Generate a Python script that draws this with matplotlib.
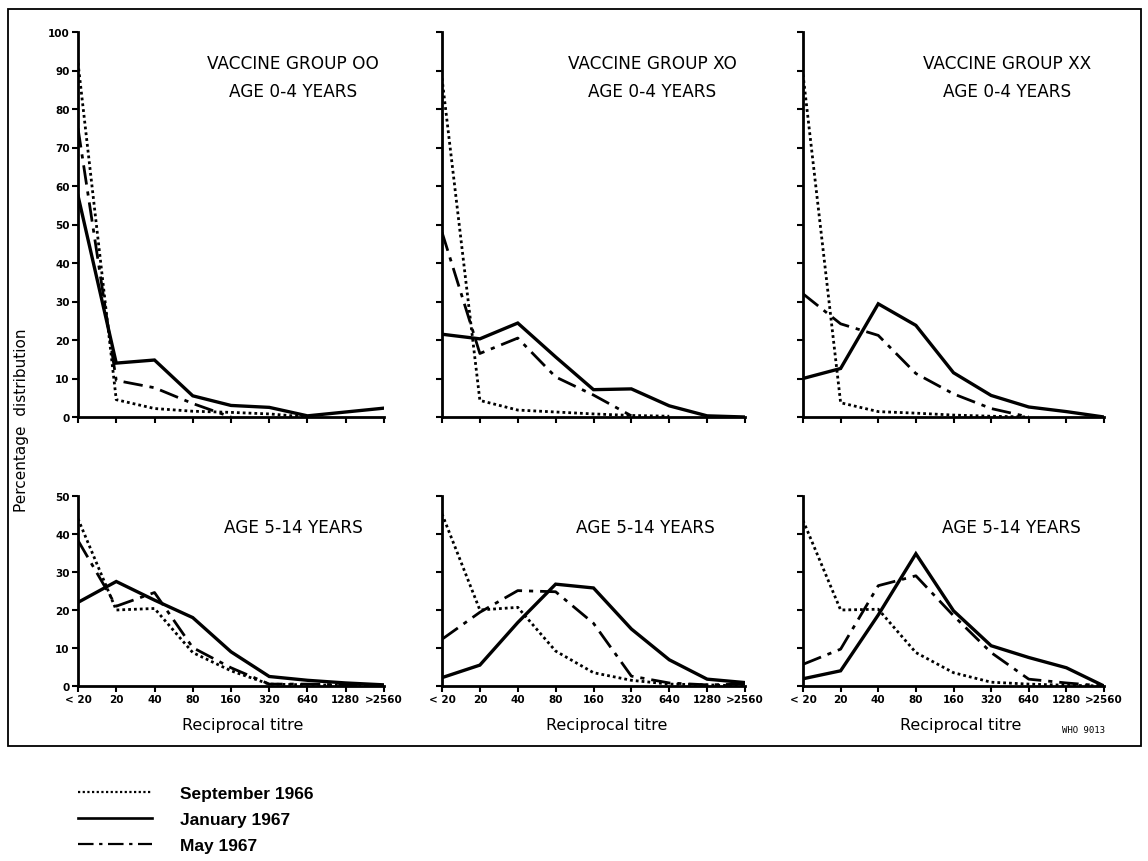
import matplotlib
matplotlib.use("Agg")
import matplotlib.pyplot as plt
from matplotlib.lines import Line2D
from matplotlib.patches import Rectangle

plt.rcParams['font.family'] = ['DejaVu Sans']

titres = ["< 20", "20", "40", "80", "160", "320", "640", "1280", ">2560"]

# Age 0-4 years
oo_young_sep = [92, 4.5, 2.2, 1.5, 1.2, 0.8, 0.0]
oo_young_jan = [57.5, 14, 14.8, 5.5, 3, 2.5, 0.3, 1.3, 2.3]
oo_young_may = [75, 9.5, 7.6, 3.5, 0.0]

xo_young_sep = [88, 4.3, 1.8, 1.3, 0.8, 0.4, 0.2]
xo_young_jan = [21.5, 20.3, 24.4, 15.6, 7.1, 7.3, 2.9, 0.3, 0.0]
xo_young_may = [48, 16.5, 20.5, 10.4, 5.7, 0.3]

xx_young_sep = [89, 3.7, 1.4, 1.0, 0.5, 0.2, 0.0]
xx_young_jan = [10, 12.6, 29.4, 23.8, 11.5, 5.6, 2.6, 1.4, 0.0]
xx_young_may = [32, 24.2, 21.2, 11.3, 6.0, 2.2, 0.0]

# Age 5-14 years
oo_old_sep = [44, 20, 20.4, 8.8, 4.0, 0.5, 0.3, 0.2, 0.0]
oo_old_jan = [22, 27.5, 22.6, 18, 9.0, 2.5, 1.5, 0.8, 0.3]
oo_old_may = [38.3, 21, 24.6, 10.1, 4.8, 0.5, 0.5, 0.3, 0.0]

xo_old_sep = [45.3, 20, 20.7, 9.2, 3.5, 1.5, 0.5, 0.3, 0.0]
xo_old_jan = [2.2, 5.5, 16.7, 26.8, 25.8, 15, 6.9, 1.8, 0.9]
xo_old_may = [12.3, 19.4, 25.1, 24.8, 16.5, 2.6, 0.8, 0.3, 0.5]

xx_old_sep = [43.6, 20, 20.2, 8.8, 3.5, 1.0, 0.5, 0.2, 0.0]
xx_old_jan = [1.9, 4.0, 18.7, 34.8, 19.8, 10.6, 7.5, 4.8, 0.0]
xx_old_may = [5.7, 9.7, 26.4, 29, 18.5, 8.8, 1.8, 0.8, 0.0]

series_labels = ["September 1966", "January 1967", "May 1967"]
group_titles = ["VACCINE GROUP OO", "VACCINE GROUP XO", "VACCINE GROUP XX"]
young_title = "AGE 0-4 YEARS"
old_title = "AGE 5-14 YEARS"

styles = [dict(ls=(0, (1, 1.1)), lw=2.0),
          dict(ls='-', lw=2.4),
          dict(ls=(0, (7, 2.5, 1.5, 2.5)), lw=2.0)]

W, H = 1148, 862
fig = plt.figure(figsize=(W / 100, H / 100), dpi=100)

col_x = [(78, 384), (442, 745), (803, 1104)]
row_y = [(33, 418), (497, 687)]

data = [
    [(oo_young_sep, oo_young_jan, oo_young_may),
     (xo_young_sep, xo_young_jan, xo_young_may),
     (xx_young_sep, xx_young_jan, xx_young_may)],
    [(oo_old_sep, oo_old_jan, oo_old_may),
     (xo_old_sep, xo_old_jan, xo_old_may),
     (xx_old_sep, xx_old_jan, xx_old_may)],
]

top_cx = [293, 652, 1007]
bot_cx = [293, 645, 1011]
label_cx = [243, 607, 961]

for r in range(2):
    y0, y1 = row_y[r]
    for c in range(3):
        x0, x1 = col_x[c]
        ax = fig.add_axes([x0 / W, 1 - y1 / H, (x1 - x0) / W, (y1 - y0) / H])
        for s, st in zip(data[r][c], styles):
            ax.plot(range(len(s)), s, color='black', ls=st['ls'], lw=st['lw'],
                    solid_joinstyle='miter', dash_capstyle='butt')
        ax.set_xlim(0, 8)
        ymax = 100 if r == 0 else 50
        ax.set_ylim(0, ymax)
        ax.set_xticks(range(9))
        ax.set_yticks(range(0, ymax + 1, 10))
        for sp in ['top', 'right']:
            ax.spines[sp].set_visible(False)
        for sp in ['left', 'bottom']:
            ax.spines[sp].set_linewidth(2)
        ax.tick_params(direction='out', length=4, width=1.5, pad=2)
        if r == 1:
            ax.set_xticklabels(titres, fontsize=7.5, fontweight='bold')
        else:
            ax.set_xticklabels([])
        if c == 0:
            ax.set_yticklabels([str(v) for v in range(0, ymax + 1, 10)],
                               fontsize=7.5, fontweight='bold')
        else:
            ax.set_yticklabels([])
        ax.patch.set_alpha(0)
        if r == 0:
            fig.text(top_cx[c] / W, 1 - 69 / H, group_titles[c], ha='center',
                     va='baseline', fontsize=12.2)
            fig.text(top_cx[c] / W, 1 - 97 / H, young_title, ha='center',
                     va='baseline', fontsize=12.2)
        else:
            fig.text(bot_cx[c] / W, 1 - 533 / H, old_title, ha='center',
                     va='baseline', fontsize=12.2)
            fig.text(label_cx[c] / W, 1 - 730 / H, "Reciprocal titre",
                     ha='center', va='baseline', fontsize=11.5)

fig.text(22 / W, 1 - 420 / H, "Percentage  distribution", rotation=90,
         ha='center', va='center', fontsize=11)
fig.text(1062 / W, 1 - 731 / H, "WHO 9013", fontsize=6.5,
         family='DejaVu Sans Mono', ha='left', va='center')

fig.add_artist(Rectangle((8 / W, 1 - 747 / H), (1141 - 8) / W, (747 - 10) / H,
                         transform=fig.transFigure, fill=False,
                         edgecolor='black', lw=1.3))

handles = [Line2D([], [], color='black', ls=st['ls'], lw=st['lw'] * 0.8)
           for st in styles]
leg = fig.legend(handles, series_labels, loc='upper left',
                 bbox_to_anchor=(78 / W, 1 - 787 / H), frameon=False,
                 borderpad=0, borderaxespad=0,
                 handlelength=4.25, handletextpad=1.6, labelspacing=0.62,
                 prop=dict(size=12.5, weight='bold', family='Liberation Sans'))

fig.savefig("out.png", dpi=100, facecolor='white')
